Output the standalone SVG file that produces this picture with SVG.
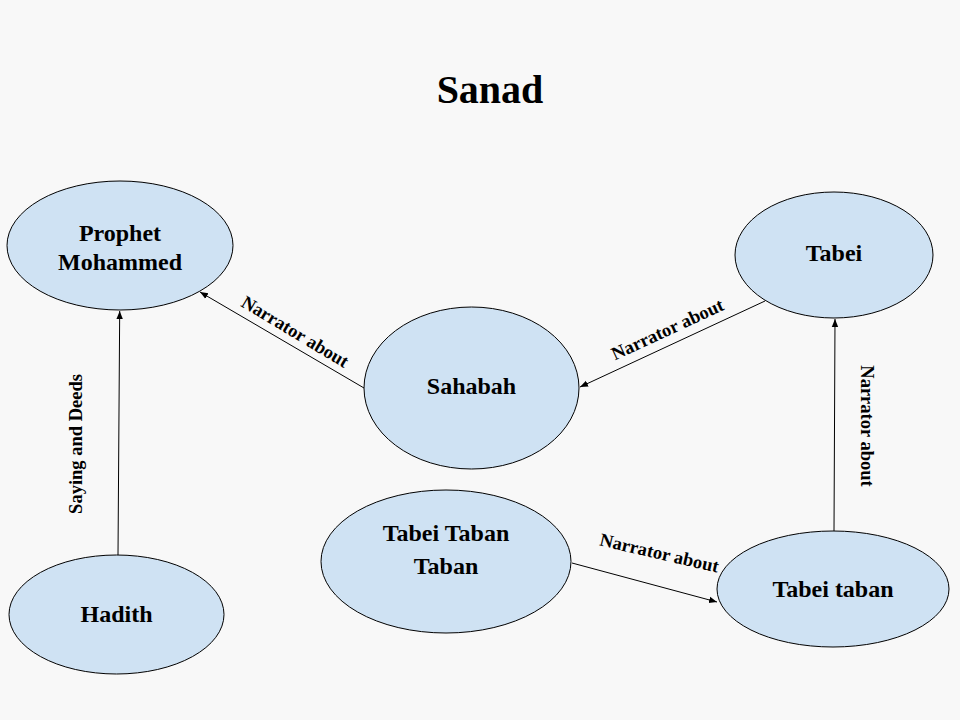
<svg xmlns="http://www.w3.org/2000/svg" width="960" height="720" viewBox="0 0 960 720">
<style>
.node{fill:#cfe2f3;stroke:#000;stroke-width:1}
.nt{font-family:"Liberation Serif","Times New Roman",serif;font-weight:bold;font-size:24px;fill:#000;text-anchor:middle}
.lbl{font-family:"Liberation Serif","Times New Roman",serif;font-weight:bold;font-size:18.5px;fill:#000;text-anchor:middle}
.edge{stroke:#000;stroke-width:1;fill:none;marker-end:url(#arr)}
</style>
<defs>
<marker id="arr" markerUnits="userSpaceOnUse" markerWidth="10" markerHeight="8" refX="8" refY="4" orient="auto">
<path d="M0,0.8 L8,4 L0,7.2 Z" fill="#000"/>
</marker>
</defs>
<rect width="960" height="720" fill="#f8f8f8"/>
<text x="490" y="103" font-family="Liberation Serif, Times New Roman, serif" font-weight="bold" font-size="40" text-anchor="middle">Sanad</text>
<g id="connectors">
<line class="edge" x1="118" y1="555" x2="119.7" y2="311"/>
<line class="edge" x1="364" y1="388" x2="200" y2="292"/>
<line class="edge" x1="765" y1="301" x2="580" y2="387"/>
<line class="edge" x1="834" y1="531" x2="835" y2="319"/>
<line class="edge" x1="572" y1="563" x2="717" y2="602"/>
<text class="lbl" transform="translate(292,337) rotate(31)">Narrator about</text>
<text class="lbl" transform="translate(82,444) rotate(-90)">Saying and Deeds</text>
<text class="lbl" transform="translate(670,335) rotate(-24.9)">Narrator about</text>
<text class="lbl" transform="translate(861,426) rotate(90)">Narrator about</text>
<text class="lbl" transform="translate(658,559) rotate(13)">Narrator about</text>
</g>
<g id="prophet"><ellipse class="node" cx="120" cy="245.5" rx="113" ry="64.5"/><text class="nt" x="120" y="241">Prophet</text><text class="nt" x="120" y="270">Mohammed</text></g>
<g id="tabei"><ellipse class="node" cx="834" cy="255" rx="99" ry="63"/><text class="nt" x="834" y="261">Tabei</text></g>
<g id="sahabah"><ellipse class="node" cx="471.5" cy="388" rx="107.5" ry="81"/><text class="nt" x="471.5" y="394">Sahabah</text></g>
<g id="tabei-taban-taban"><ellipse class="node" cx="446" cy="561.5" rx="125" ry="71.5"/><text class="nt" x="446" y="541">Tabei Taban</text><text class="nt" x="446" y="574">Taban</text></g>
<g id="hadith"><ellipse class="node" cx="116.5" cy="614.5" rx="107.5" ry="59.5"/><text class="nt" x="116.5" y="622">Hadith</text></g>
<g id="tabei-taban"><ellipse class="node" cx="833" cy="589" rx="116" ry="58"/><text class="nt" x="833" y="597">Tabei taban</text></g>
</svg>
